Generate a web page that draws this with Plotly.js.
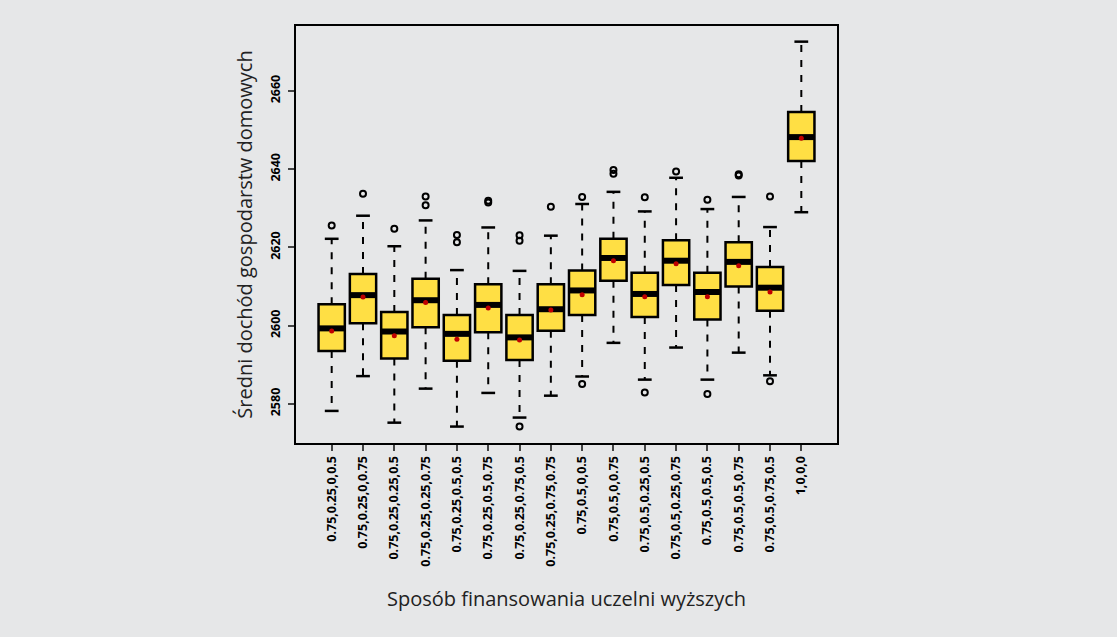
<!DOCTYPE html>
<html>
<head>
<meta charset="utf-8">
<script src="https://cdn.plot.ly/plotly-3.0.1.min.js"></script>
<style>html,body{margin:0;padding:0;background:#e6e7e8;}#chart{width:1117px;height:637px;}</style>
</head>
<body>
<div id="chart"></div>
<script>
var categories = ["0.75,0.25,0,0.5","0.75,0.25,0,0.75","0.75,0.25,0.25,0.5","0.75,0.25,0.25,0.75",
  "0.75,0.25,0.5,0.5","0.75,0.25,0.5,0.75","0.75,0.25,0.75,0.5","0.75,0.25,0.75,0.75",
  "0.75,0.5,0,0.5","0.75,0.5,0,0.75","0.75,0.5,0.25,0.5","0.75,0.5,0.25,0.75",
  "0.75,0.5,0.5,0.5","0.75,0.5,0.5,0.75","0.75,0.5,0.75,0.5","1,0,0,0"];
var lowerWhisker = [2578.2,2587.1,2575.2,2583.9,2574.2,2582.8,2576.5,2582.1,2587.0,2595.6,2586.2,2594.4,2586.2,2593.1,2587.3,2629.0];
var q1Values     = [2593.5,2600.6,2591.6,2599.6,2591.0,2598.3,2591.2,2598.7,2602.7,2611.5,2602.2,2610.4,2601.6,2610.0,2603.8,2642.1];
var medianValues = [2599.3,2607.8,2598.5,2606.5,2597.9,2605.3,2597.0,2604.2,2609.0,2617.3,2608.1,2616.6,2608.6,2616.3,2609.7,2648.2];
var q3Values     = [2605.5,2613.2,2603.5,2612.0,2602.7,2610.6,2602.7,2610.6,2614.1,2622.2,2613.5,2621.8,2613.5,2621.3,2615.0,2654.6];
var upperWhisker = [2622.2,2628.1,2620.3,2626.9,2614.2,2625.1,2614.0,2623.0,2631.1,2634.2,2629.2,2637.8,2629.8,2632.9,2625.2,2672.6];
var meanValues   = [2598.6,2607.3,2597.4,2605.9,2596.5,2604.5,2596.3,2604.0,2607.9,2616.6,2607.4,2615.8,2607.4,2615.3,2608.6,2647.9];
var outlierGroup = [1,2,3,4,4,5,5,6,6,7,7,7,8,9,9,10,10,11,11,12,13,13,14,14,15,15];
var outlierValue = [2625.6,2633.7,2624.8,2633.0,2630.8,2623.2,2621.3,2631.9,2631.5,2623.1,2621.7,2574.2,2630.4,
  2632.9,2585.1,2639.8,2638.8,2632.8,2582.9,2639.4,2632.2,2582.5,2638.7,2638.4,2633.0,2585.8];
var yTicks = [2580,2600,2620,2640,2660];

var pos = categories.map(function(c,i){return i+1;});
var boxW = 0.84, capHalf = 0.22, medHalf = 0.41;

var wx=[], wy=[], cx=[], cy=[], mx=[], my=[];
pos.forEach(function(p,i){
  wx.push(p,p,null,p,p,null); wy.push(q3Values[i],upperWhisker[i],null,q1Values[i],lowerWhisker[i],null);
  cx.push(p-capHalf,p+capHalf,null,p-capHalf,p+capHalf,null); cy.push(upperWhisker[i],upperWhisker[i],null,lowerWhisker[i],lowerWhisker[i],null);
  mx.push(p-medHalf,p+medHalf,null); my.push(medianValues[i],medianValues[i],null);
});

var traces = [
  {type:'scatter',mode:'lines',x:wx,y:wy,line:{color:'black',width:2,dash:'7px,8px'},hoverinfo:'skip',showlegend:false},
  {type:'scatter',mode:'lines',x:cx,y:cy,line:{color:'black',width:2.5},hoverinfo:'skip',showlegend:false},
  {type:'box',x:pos,q1:q1Values,median:medianValues,q3:q3Values,lowerfence:q1Values,upperfence:q3Values,
   width:boxW,fillcolor:'#FFDF44',line:{color:'black',width:2.5},boxpoints:false,showlegend:false},
  {type:'scatter',mode:'lines',x:mx,y:my,line:{color:'black',width:6},hoverinfo:'skip',showlegend:false},
  {type:'scatter',mode:'markers',x:pos,y:meanValues,marker:{color:'#C00000',size:5},showlegend:false},
  {type:'scatter',mode:'markers',x:outlierGroup,y:outlierValue,marker:{symbol:'circle-open',color:'black',size:6,line:{width:2}},showlegend:false}
];

var layout = {
  width:1117,height:637,
  paper_bgcolor:'#e6e7e8',plot_bgcolor:'#e6e7e8',
  margin:{l:296,r:280,t:26,b:194},
  font:{family:'Open Sans, sans-serif',color:'black'},
  xaxis:{range:[-0.14,17.14],tickvals:pos,ticktext:categories,tickangle:-90,ticks:'outside',ticklen:6,tickwidth:2,
    tickfont:{size:12.5,family:'Open Sans',weight:'bold'},showgrid:false,zeroline:false,showline:true,mirror:true,linewidth:2,linecolor:'black',
    title:{text:'Sposób finansowania uczelni wyższych',font:{size:20,family:'Open Sans',color:'#222'},standoff:26}},
  yaxis:{range:[2570.0,2676.6],tickvals:yTicks,tickangle:-90,ticks:'outside',ticklen:6,tickwidth:2,ticklabelstandoff:3,
    tickfont:{size:12.5,family:'Open Sans',weight:'bold'},showgrid:false,zeroline:false,showline:true,mirror:true,linewidth:2,linecolor:'black',
    title:{text:'Średni dochód gospodarstw domowych',font:{size:20,family:'Open Sans',color:'#222'},standoff:9}}
};
Plotly.newPlot('chart',traces,layout,{displayModeBar:false,staticPlot:true});
</script>
</body>
</html>
